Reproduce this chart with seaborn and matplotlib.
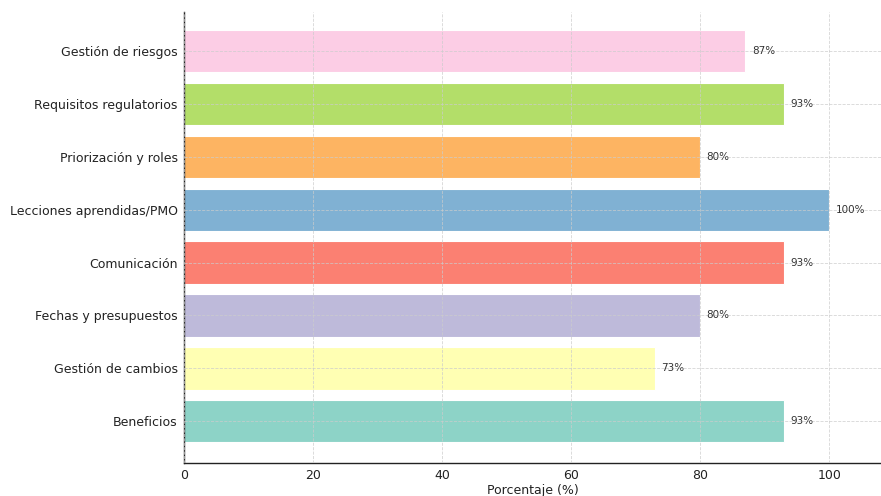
import matplotlib
matplotlib.use("Agg")
import matplotlib.pyplot as plt
import seaborn as sns
import pandas as pd

categories = [
    "Gestión de riesgos",
    "Requisitos regulatorios",
    "Priorización y roles",
    "Lecciones aprendidas/PMO",
    "Comunicación",
    "Fechas y presupuestos",
    "Gestión de cambios",
    "Beneficios",
]
values = [87, 93, 80, 100, 93, 80, 73, 93]
colors = ["#fccde5", "#b3de69", "#fdb462", "#80b1d3",
          "#fb8072", "#bebada", "#ffffb3", "#8dd3c7"]
x_ticks = [0, 20, 40, 60, 80, 100]

df = pd.DataFrame({"categoria": categories, "valor": values})

sns.set_style("white")
plt.rcParams["font.family"] = ["DejaVu Sans"]

fig = plt.figure(figsize=(8.81, 4.96), dpi=100)
ax = fig.add_axes([0.2088, 0.0665, 0.7912, 0.9095])

sns.barplot(data=df, y="categoria", x="valor", hue="categoria",
            palette=colors, orient="h", ax=ax, width=0.8, saturation=1,
            edgecolor="white", linewidth=0.8, legend=False)

for i, v in enumerate(values):
    ax.text(v + 1.0, i, f"{v}%", va="center", ha="left",
            fontsize=7.5, color="#333333")

ax.set_xlim(0, 108)
ax.set_ylim(7.79, -0.74)
ax.set_xticks(x_ticks)
ax.set_ylabel("")
ax.set_xlabel("Porcentaje (%)", fontsize=9, color="#222222", labelpad=1)
ax.tick_params(axis="y", labelsize=9, length=3, pad=1.5, colors="#222222")
ax.tick_params(axis="x", labelsize=9, length=3, pad=1.5, colors="#222222")
ax.grid(True, linestyle="--", linewidth=0.6, color="#cccccc", alpha=0.8)
ax.set_axisbelow(False)
for side in ("top", "right"):
    ax.spines[side].set_visible(False)
for side in ("left", "bottom"):
    ax.spines[side].set_color("#222222")
    ax.spines[side].set_linewidth(1.0)

fig.savefig("out.png", dpi=100)
